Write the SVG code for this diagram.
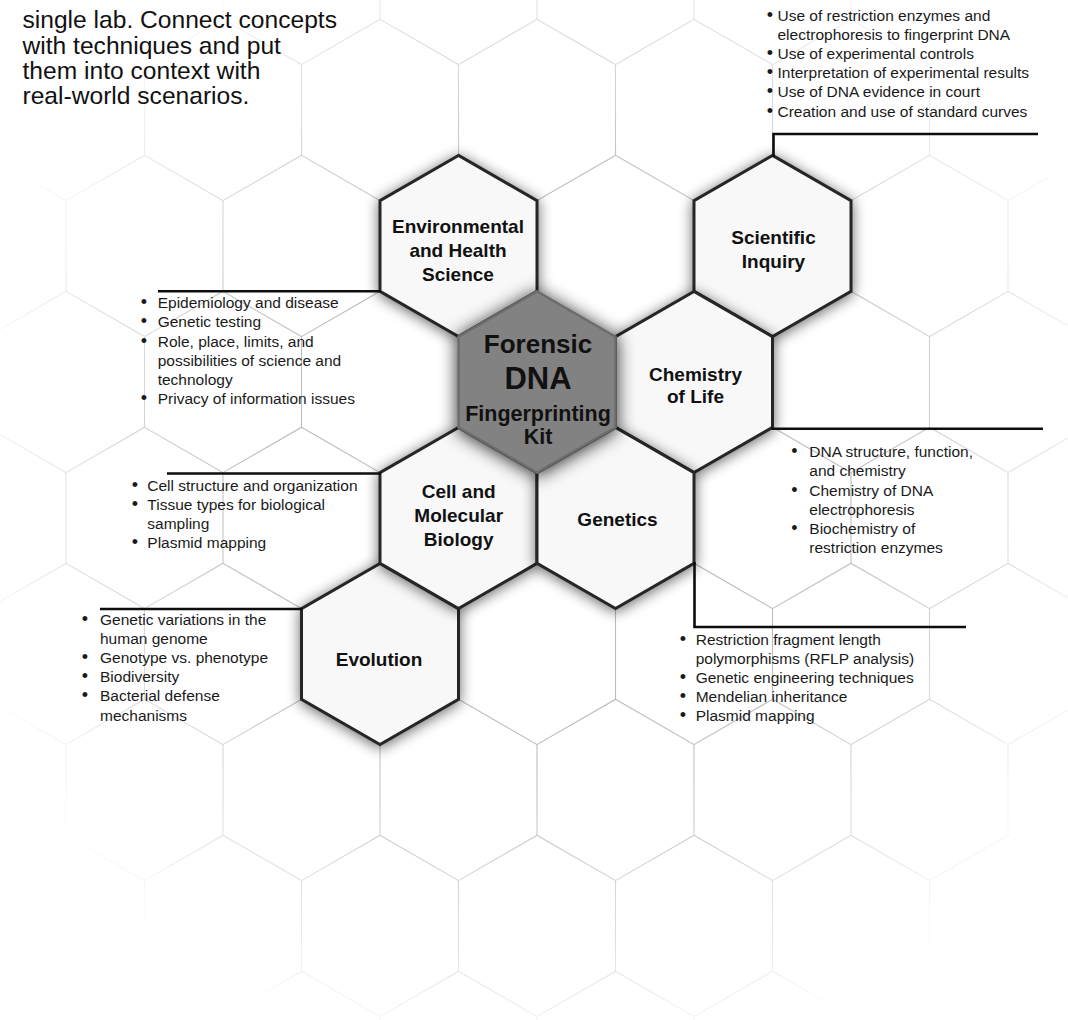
<svg xmlns="http://www.w3.org/2000/svg" xmlns:xlink="http://www.w3.org/1999/xlink" width="1068" height="1020" viewBox="0 0 1068 1020">
<style>
.hex{fill:#f8f8f8;stroke:#262626;stroke-width:3;stroke-linejoin:miter}
.hexc{fill:#828282;stroke:#6c6c6c;stroke-width:2.5}
.lbl{font-family:"Liberation Sans",Arial,sans-serif;font-weight:bold;font-size:19px;fill:#111;text-anchor:middle}
.li{font-family:"Liberation Sans",Arial,sans-serif;font-size:15.5px;fill:#1a1a1a}
.bu{text-anchor:middle;font-size:18px}
.intro{font-family:"Liberation Sans",Arial,sans-serif;font-size:24.6px;fill:#111}
.con{fill:none;stroke:#0d0d0d;stroke-width:2.6;stroke-linejoin:miter}
</style>
<defs>
<polygon id="hex" points="0,-90.64 78.5,-45.32 78.5,45.32 0,90.64 -78.5,45.32 -78.5,-45.32"/>
<pattern id="grid" patternUnits="userSpaceOnUse" x="66" y="110" width="157" height="272">
<path d="M78.5,-45.32V45.32L0,90.64V181.32L78.5,226.64V317.32M78.5,45.32L157,90.64V181.32L78.5,226.64" fill="none" stroke="#b8b8b8" stroke-width="1.1"/>
</pattern>
<radialGradient id="fade" cx="550" cy="480" r="640" gradientUnits="userSpaceOnUse">
<stop offset="0" stop-color="#fff" stop-opacity="1"/>
<stop offset="0.45" stop-color="#fff" stop-opacity="0.95"/>
<stop offset="0.75" stop-color="#fff" stop-opacity="0.4"/>
<stop offset="0.95" stop-color="#fff" stop-opacity="0"/>
</radialGradient>
<mask id="gridmask" maskUnits="userSpaceOnUse" x="0" y="0" width="1068" height="1020">
<rect width="1068" height="1020" fill="url(#fade)"/>
</mask>
<filter id="sh" x="-30%" y="-30%" width="160%" height="160%">
<feGaussianBlur in="SourceAlpha" stdDeviation="7"/>
<feOffset dx="0" dy="2"/>
<feComponentTransfer><feFuncA type="linear" slope="0.6"/></feComponentTransfer>
<feMerge><feMergeNode/><feMergeNode in="SourceGraphic"/></feMerge>
</filter>
<filter id="shc" x="-30%" y="-30%" width="160%" height="160%">
<feGaussianBlur in="SourceAlpha" stdDeviation="9"/>
<feOffset dx="0" dy="2"/>
<feComponentTransfer><feFuncA type="linear" slope="0.85"/></feComponentTransfer>
<feMerge><feMergeNode/><feMergeNode in="SourceGraphic"/></feMerge>
</filter>
</defs>

<rect width="1068" height="1020" fill="#fff"/>
<g id="background-grid">
<rect width="1068" height="1020" fill="url(#grid)" mask="url(#gridmask)"/>
</g>

<g id="intro">
<text class="intro" x="22.5" y="28.3">single lab. Connect concepts</text>
<text class="intro" x="22.5" y="53.6">with techniques and put</text>
<text class="intro" x="22.5" y="78.9">them into context with</text>
<text class="intro" x="22.5" y="104.2">real-world scenarios.</text>
</g>

<g id="node-evolution">
<use href="#hex" x="380" y="654" class="hex" filter="url(#sh)"/>
<text class="lbl" x="379" y="665.7">Evolution</text>
</g>
<g id="node-cell">
<use href="#hex" x="458.5" y="518" class="hex" filter="url(#sh)"/>
<text class="lbl" x="458.7" y="498.3">Cell and</text>
<text class="lbl" x="458.7" y="522.3">Molecular</text>
<text class="lbl" x="458.7" y="546">Biology</text>
</g>
<g id="node-env">
<use href="#hex" x="458.5" y="246" class="hex" filter="url(#sh)"/>
<text class="lbl" x="458" y="233.3">Environmental</text>
<text class="lbl" x="458" y="257.3">and Health</text>
<text class="lbl" x="458" y="281.3">Science</text>
</g>
<g id="node-scientific">
<use href="#hex" x="772.5" y="246" class="hex" filter="url(#sh)"/>
<text class="lbl" x="773.5" y="244.3">Scientific</text>
<text class="lbl" x="773.5" y="267.7">Inquiry</text>
</g>
<g id="node-chem">
<use href="#hex" x="694" y="382" class="hex" filter="url(#sh)"/>
<text class="lbl" x="695.5" y="380.5">Chemistry</text>
<text class="lbl" x="695.5" y="403.3">of Life</text>
</g>
<g id="node-genetics">
<use href="#hex" x="615.5" y="518" class="hex" filter="url(#sh)"/>
<text class="lbl" x="617.5" y="526">Genetics</text>
</g>
<g id="node-center">
<use href="#hex" x="537" y="382" class="hexc" filter="url(#shc)"/>
<text class="lbl" x="538" y="353.3" style="font-size:26px">Forensic</text>
<text class="lbl" x="538" y="389.3" style="font-size:31px">DNA</text>
<text class="lbl" x="538" y="420.7" style="font-size:21.5px">Fingerprinting</text>
<text class="lbl" x="538" y="444" style="font-size:21.5px">Kit</text>
</g>

<g id="connectors">
<path class="con" d="M773.5,157V134H1038"/>
<path class="con" d="M381,291.2H158"/>
<path class="con" d="M381,473.5H167"/>
<path class="con" d="M302.5,609H100"/>
<path class="con" d="M771.5,428.8H1043"/>
<path class="con" d="M694.5,562V627H966"/>
</g>

<g id="list-scientific" class="li">
<text class="bu" x="770" y="20.5">•</text><text x="777.5" y="20.5">Use of restriction enzymes and</text>
<text x="777.5" y="39.7">electrophoresis to fingerprint DNA</text>
<text class="bu" x="770" y="58.9">•</text><text x="777.5" y="58.9">Use of experimental controls</text>
<text class="bu" x="770" y="78.1">•</text><text x="777.5" y="78.1">Interpretation of experimental results</text>
<text class="bu" x="770" y="97.3">•</text><text x="777.5" y="97.3">Use of DNA evidence in court</text>
<text class="bu" x="770" y="116.5">•</text><text x="777.5" y="116.5">Creation and use of standard curves</text>
</g>

<g id="list-env" class="li">
<text class="bu" x="144" y="308.3">•</text><text x="157.7" y="308.3">Epidemiology and disease</text>
<text class="bu" x="144" y="327.4">•</text><text x="157.7" y="327.4">Genetic testing</text>
<text class="bu" x="144" y="346.5">•</text><text x="157.7" y="346.5">Role, place, limits, and</text>
<text x="157.7" y="365.6">possibilities of science and</text>
<text x="157.7" y="384.7">technology</text>
<text class="bu" x="144" y="403.8">•</text><text x="157.7" y="403.8">Privacy of information issues</text>
</g>

<g id="list-cell" class="li">
<text class="bu" x="135" y="491">•</text><text x="147.3" y="491">Cell structure and organization</text>
<text class="bu" x="135" y="510">•</text><text x="147.3" y="510">Tissue types for biological</text>
<text x="147.3" y="529">sampling</text>
<text class="bu" x="135" y="548.3">•</text><text x="147.3" y="548.3">Plasmid mapping</text>
</g>

<g id="list-evolution" class="li">
<text class="bu" x="85" y="625">•</text><text x="100" y="625">Genetic variations in the</text>
<text x="100" y="644.1">human genome</text>
<text class="bu" x="85" y="663.2">•</text><text x="100" y="663.2">Genotype vs. phenotype</text>
<text class="bu" x="85" y="682.3">•</text><text x="100" y="682.3">Biodiversity</text>
<text class="bu" x="85" y="701.4">•</text><text x="100" y="701.4">Bacterial defense</text>
<text x="100" y="720.5">mechanisms</text>
</g>

<g id="list-chem" class="li">
<text class="bu" x="794.5" y="457.3">•</text><text x="809.3" y="457.3">DNA structure, function,</text>
<text x="809.3" y="476.4">and chemistry</text>
<text class="bu" x="794.5" y="495.5">•</text><text x="809.3" y="495.5">Chemistry of DNA</text>
<text x="809.3" y="514.6">electrophoresis</text>
<text class="bu" x="794.5" y="533.7">•</text><text x="809.3" y="533.7">Biochemistry of</text>
<text x="809.3" y="552.8">restriction enzymes</text>
</g>

<g id="list-genetics" class="li">
<text class="bu" x="683" y="645">•</text><text x="695.7" y="645">Restriction fragment length</text>
<text x="695.7" y="664.1">polymorphisms (RFLP analysis)</text>
<text class="bu" x="683" y="683.2">•</text><text x="695.7" y="683.2">Genetic engineering techniques</text>
<text class="bu" x="683" y="702.3">•</text><text x="695.7" y="702.3">Mendelian inheritance</text>
<text class="bu" x="683" y="721.4">•</text><text x="695.7" y="721.4">Plasmid mapping</text>
</g>
</svg>
